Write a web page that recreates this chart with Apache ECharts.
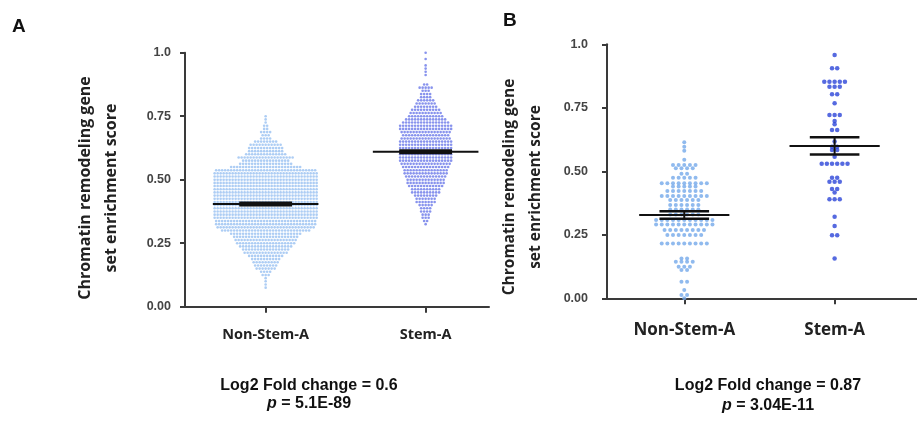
<!DOCTYPE html>
<html><head><meta charset="utf-8">
<script src="https://cdn.jsdelivr.net/npm/echarts@6/dist/echarts.min.js"></script>
<style>html,body{margin:0;padding:0;background:#fff}#c{width:917px;height:423px}</style>
</head><body><div id="c"></div>
<script>
// ---- data ----
const categories = ['Non-Stem-A', 'Stem-A'];
const yTicks = [0, 0.25, 0.5, 0.75, 1.0];
// Panel A: [score, number of dots in that row]
const nonStemRowsA = [
  [0.750,1],[0.7375,1],[0.725,1],[0.7125,2],[0.700,2],[0.6875,4],[0.675,3],[0.6625,4],
  [0.650,8],[0.6375,11],[0.625,12],[0.6125,12],[0.600,14],[0.5875,19],[0.575,16],[0.5625,18],
  [0.550,24],[0.5375,34],[0.525,35],[0.5125,35],[0.500,35],[0.4875,35],[0.475,35],[0.4625,35],
  [0.450,35],[0.4375,35],[0.425,35],[0.4125,35],[0.400,35],[0.3875,35],[0.375,35],[0.3625,35],
  [0.350,35],[0.3375,34],[0.325,34],[0.3125,33],[0.300,30],[0.2875,24],[0.275,22],[0.2625,21],
  [0.250,20],[0.2375,18],[0.225,16],[0.2125,15],[0.200,12],[0.1875,10],[0.175,9],[0.1625,8],
  [0.150,7],[0.1375,4],[0.125,3],[0.1125,1],[0.100,1],[0.0875,1],[0.075,1]
];
const stemRowsA = [
  [1.000,1],[0.975,1],[0.950,1],[0.9375,1],[0.925,1],[0.9125,1],[0.875,2],[0.8625,5],
  [0.850,3],[0.8375,4],[0.825,4],[0.8125,6],[0.800,7],[0.7875,8],[0.775,10],[0.7625,11],
  [0.750,12],[0.7375,14],[0.725,16],[0.7125,18],[0.700,18],[0.6875,17],[0.675,16],[0.6625,17],
  [0.650,18],[0.6375,18],[0.625,18],[0.6125,18],[0.600,18],[0.5875,18],[0.575,18],[0.5625,17],
  [0.550,16],[0.5375,15],[0.525,15],[0.5125,14],[0.500,13],[0.4875,13],[0.475,12],[0.4625,10],
  [0.450,10],[0.4375,8],[0.425,7],[0.4125,7],[0.400,5],[0.3875,4],[0.375,4],[0.3625,3],
  [0.350,3],[0.3375,2],[0.325,1]
];
// Panel B: [score, number of dots at that score]
const nonStemRowsB = [
  [0.614,1],[0.597,1],[0.581,1],[0.545,1],[0.525,5],[0.512,4],[0.490,2],[0.475,5],
  [0.453,9],[0.440,5],[0.422,7],[0.403,9],[0.387,6],[0.367,6],[0.350,6],[0.330,6],
  [0.308,11],[0.291,11],[0.269,8],[0.249,7],[0.216,9],[0.157,2],[0.144,4],[0.124,3],
  [0.111,2],[0.065,2],[0.033,1],[0.013,2],[0.000,1]
];
const stemRowsB = [
  [1.005,1],[0.958,1],[0.906,2],[0.853,5],[0.833,3],[0.803,2],[0.768,1],[0.722,3],
  [0.698,1],[0.685,1],[0.663,2],[0.617,1],[0.597,2],[0.584,2],[0.557,1],[0.530,6],
  [0.475,2],[0.459,3],[0.430,2],[0.417,1],[0.390,3],[0.321,1],[0.285,1],[0.248,2],[0.157,1]
];
const meanA = [0.404, 0.610];
const meanB = [0.328, 0.600];
const semB = [0.015, 0.034];
const foldA = 'Log2 Fold change = 0.6', pA = '5.1E-89';
const foldB = 'Log2 Fold change = 0.87', pB = '3.04E-11';

// ---- helpers ----
function swarm(rows, cat, step) {
  const out = [];
  rows.forEach(([v, n]) => {
    for (let i = 0; i < n; i++) out.push([cat + (i - (n - 1) / 2) * step, v]);
  });
  return out;
}
function seg(ax, pts, w) {
  return { type: 'line', xAxisIndex: ax, yAxisIndex: ax, data: pts, symbol: 'none',
    silent: true, z: 5, lineStyle: { color: '#111', width: w } };
}
const axisColor = '#3a3a3a';
function xAx(grid, min, max, fs, margin) {
  return { gridIndex: grid, type: 'value', min: min, max: max,
    axisLine: { show: true, onZero: false, lineStyle: { color: axisColor, width: 2 } },
    axisTick: { show: true, customValues: [0, 1], length: 6, lineStyle: { color: axisColor, width: 2 } },
    axisLabel: { customValues: [0, 1], formatter: v => categories[Math.round(v)], margin: margin,
      fontFamily: 'Open Sans', fontWeight: 'bold', fontSize: fs, color: '#222' },
    splitLine: { show: false } };
}
function yAx(grid, margin) {
  return { gridIndex: grid, type: 'value', min: 0, max: 1, interval: 0.25,
    axisLine: { show: true, onZero: false, lineStyle: { color: axisColor, width: 2 } },
    axisTick: { show: true, length: 5, lineStyle: { color: axisColor, width: 2 } },
    axisLabel: { formatter: v => (v === 1 ? '1.0' : v.toFixed(2)), margin: margin,
      fontFamily: 'Liberation Sans', fontWeight: 'bold', fontSize: 12.5, color: '#444' },
    splitLine: { show: false } };
}

const series = [
  { type: 'scatter', xAxisIndex: 0, yAxisIndex: 0, data: swarm(nonStemRowsA, 0, 3 / 160),
    symbolSize: 2.6, itemStyle: { color: '#98c1f1' }, silent: true },
  { type: 'scatter', xAxisIndex: 0, yAxisIndex: 0, data: swarm(stemRowsA, 1, 3 / 160),
    symbolSize: 2.6, itemStyle: { color: '#6a78e8' }, silent: true },
  { type: 'scatter', xAxisIndex: 1, yAxisIndex: 1, data: swarm(nonStemRowsB, 0, 6 / 160),
    symbolSize: 4, itemStyle: { color: '#74a9ea' }, silent: true },
  { type: 'scatter', xAxisIndex: 1, yAxisIndex: 1, data: swarm(stemRowsB, 1, 5.5 / 160),
    symbolSize: 4.5, itemStyle: { color: '#2c45d8' }, silent: true }
];
// panel A mean lines
meanA.forEach((m, c) => {
  series.push(seg(0, [[c - 0.33, m], [c + 0.33, m]], 2));
  series.push(seg(0, [[c - 0.165, m], [c + 0.165, m]], 5));
});
// panel B mean ± SEM
meanB.forEach((m, c) => {
  const s = semB[c];
  series.push(seg(1, [[c - 0.3, m], [c + 0.3, m]], 2));
  series.push(seg(1, [[c - 0.165, m + s], [c + 0.165, m + s]], 2.5));
  series.push(seg(1, [[c - 0.165, m - s], [c + 0.165, m - s]], 2.5));
  series.push(seg(1, [[c, m - s], [c, m + s]], 2));
});

const titleFont = 'bold 16px "Open Sans"';
const option = {
  animation: false,
  backgroundColor: '#fff',
  grid: [
    { left: 185, top: 52.7, width: 304, height: 254 },
    { left: 607, top: 44.3, width: 330, height: 254 }
  ],
  xAxis: [xAx(0, -0.504, 1.396, 14.5, 21), xAx(1, -0.514, 1.548, 17, 23)],
  yAxis: [yAx(0, 14), yAx(1, 19)],
  series: series,
  graphic: [
    { type: 'text', left: 12, top: 17, style: { text: 'A', font: 'bold 19px "Liberation Sans"', fill: '#111' } },
    { type: 'text', left: 503, top: 11, style: { text: 'B', font: 'bold 19px "Liberation Sans"', fill: '#111' } },
    { type: 'text', x: 98, y: 188, rotation: Math.PI / 2,
      style: { text: 'Chromatin remodeling gene\nset enrichment score', font: titleFont, lineHeight: 26,
        align: 'center', verticalAlign: 'middle', fill: '#222' } },
    { type: 'text', x: 523, y: 187, rotation: Math.PI / 2,
      style: { text: 'Chromatin remodeling gene\nset enrichment score', font: 'bold 15.5px "Open Sans"', lineHeight: 26,
        align: 'center', verticalAlign: 'middle', fill: '#222' } },
    { type: 'text', x: 309, y: 395,
      style: { text: '{b|' + foldA + '}\n{i|p}{b| = ' + pA + '}', align: 'center', verticalAlign: 'middle',
        rich: { b: { font: 'bold 16px "Liberation Sans"', fill: '#111', lineHeight: 18 },
                i: { font: 'italic bold 16px "Liberation Sans"', fill: '#111', lineHeight: 18 } } } },
    { type: 'text', x: 768, y: 396,
      style: { text: '{b|' + foldB + '}\n{i|p}{b| = ' + pB + '}', align: 'center', verticalAlign: 'middle',
        rich: { b: { font: 'bold 16px "Liberation Sans"', fill: '#111', lineHeight: 20 },
                i: { font: 'italic bold 16px "Liberation Sans"', fill: '#111', lineHeight: 20 } } } }
  ]
};
echarts.init(document.getElementById('c')).setOption(option);
</script>
</body></html>
